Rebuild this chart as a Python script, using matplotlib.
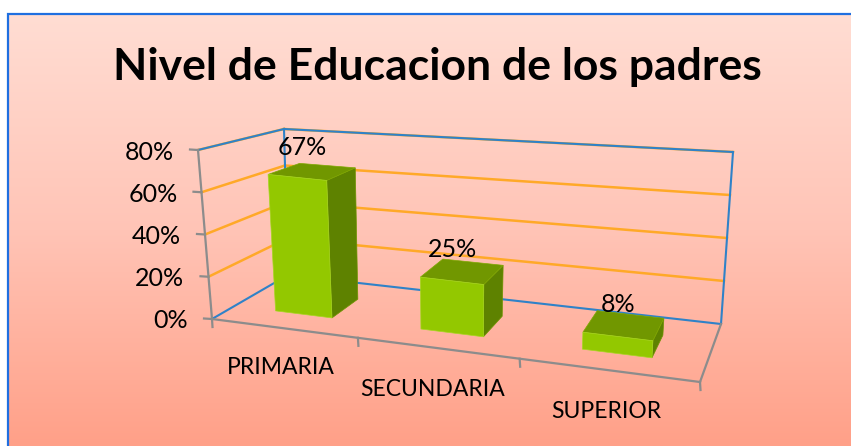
import numpy as np
import matplotlib
matplotlib.use("Agg")
import matplotlib.pyplot as plt
from matplotlib.colors import LinearSegmentedColormap
from matplotlib.patches import Polygon

title = "Nivel de Educacion de los padres"
categories = ["PRIMARIA", "SECUNDARIA", "SUPERIOR"]
values = [67, 25, 8]
value_labels = ["67%", "25%", "8%"]
y_ticks = [0, 20, 40, 60, 80]
y_tick_labels = ["0%", "20%", "40%", "60%", "80%"]

W, H = 851, 446
plt.rcParams["font.family"] = ["Lato", "DejaVu Sans"]
fig = plt.figure(figsize=(W / 100, H / 100), dpi=100)
ax = fig.add_axes([0, 0, 1, 1])
ax.set_xlim(0, W)
ax.set_ylim(H, 0)
ax.axis("off")

# gradient panel
cmap = LinearSegmentedColormap.from_list("bg", ["#FFDDD3", "#FFC4B6", "#FFA088"])
ax.imshow(np.linspace(0, 1, 256).reshape(-1, 1), cmap=cmap, aspect="auto",
          extent=(8, W, H, 14), zorder=0)
ax.set_xlim(0, W)
ax.set_ylim(H, 0)
ax.plot([8, 8, W], [H, 14, 14], color="#1F6FE0", lw=1.6, zorder=1, solid_joinstyle="miter")

# 3D box corners in pixels
FLB, FLT = np.array([212., 319.]), np.array([198., 150.])
BLB, BLT = np.array([288., 275.]), np.array([284., 129.])
FRB, FRT = np.array([700., 382.]), np.array([712., 210.])
BRB, BRT = np.array([721., 324.]), np.array([733., 152.])
VMAX = 80.0
NCAT = len(categories)
PERSP = -0.049


def project(t, v, w):
    """category position t, value v, depth w (0 front, 1 back) to pixels"""
    a = (1 + PERSP * NCAT) / NCAT
    u = a * t / (1 + PERSP * t)
    s = v / VMAX
    bottom = (1 - w) * ((1 - u) * FLB + u * FRB) + w * ((1 - u) * BLB + u * BRB)
    top = (1 - w) * ((1 - u) * FLT + u * FRT) + w * ((1 - u) * BLT + u * BRT)
    return (1 - s) * bottom + s * top


def seg(p, q, **kw):
    ax.plot([p[0], q[0]], [p[1], q[1]], **kw)


ORANGE = dict(color="#FFA928", lw=1.8, zorder=2)
BLUE = dict(color="#2F82C8", lw=1.5, zorder=3)
GRAY = dict(color="#8C8C8C", lw=1.6, zorder=3)

# gridlines on side wall and back wall
for v in y_ticks:
    a, b, c = project(0, v, 0), project(0, v, 1), project(NCAT, v, 1)
    if v == 0:
        continue
    seg(a, b, **ORANGE)
    seg(b, c, **ORANGE)

# wall edges
seg(project(0, 80, 0), project(0, 80, 1), **BLUE)
seg(project(0, 80, 1), project(NCAT, 80, 1), **BLUE)
seg(project(0, 0, 1), project(0, 80, 1), **BLUE)
seg(project(NCAT, 0, 1), project(NCAT, 80, 1), **BLUE)
seg(project(0, 0, 0), project(0, 0, 1), **BLUE)
seg(project(0, 0, 1), project(NCAT, 0, 1), **BLUE)

# axes
seg(project(0, 0, 0), project(0, 80, 0), **GRAY)
seg(project(0, 0, 0), project(NCAT, 0, 0), **GRAY)
seg(project(NCAT, 0, 0), project(NCAT, 0, 1), **GRAY)
for v, lab in zip(y_ticks, y_tick_labels):
    p = project(0, v, 0)
    seg(p, p + np.array([-8, -0.5]), **GRAY)
    ax.text(p[0] - 24, p[1] + 2, lab, ha="right", va="center", fontsize=18, color="black", zorder=6)
for t in range(NCAT + 1):
    p = project(t, 0, 0)
    seg(p, p + np.array([0.5, 8]), **GRAY)

# bars
FRONT, SIDE, TOP = "#93C800", "#5E8200", "#719700"
cat_pos = [(281, 368), (433, 390), (606, 411)]
label_shift = [(5, -30), (1, -31), (1, -32)]
w0, w1, half = 0.3, 0.7, 0.2
for i, v in enumerate(values):
    t0, t1 = i + 0.5 - half, i + 0.5 + half
    side = [project(t1, 0, w0), project(t1, 0, w1), project(t1, v, w1), project(t1, v, w0)]
    top = [project(t0, v, w0), project(t1, v, w0), project(t1, v, w1), project(t0, v, w1)]
    front = [project(t0, 0, w0), project(t1, 0, w0), project(t1, v, w0), project(t0, v, w0)]
    ax.add_patch(Polygon(side, fc=SIDE, ec="#6F9400", lw=0.5, zorder=4))
    ax.add_patch(Polygon(top, fc=TOP, ec="#7FA800", lw=0.5, zorder=4))
    ax.add_patch(Polygon(front, fc=FRONT, ec="#A6D620", lw=0.5, zorder=5))
    c = project(i + 0.5, v, w0)
    ax.text(c[0] + label_shift[i][0], c[1] + label_shift[i][1], value_labels[i],
            ha="center", va="center", fontsize=18, color="black", zorder=7)
    ax.text(cat_pos[i][0], cat_pos[i][1], categories[i], ha="center", va="center",
            fontsize=16.5, color="black", zorder=6)

ax.text(437, 67, title, ha="center", va="center", fontsize=32, fontweight="bold",
        color="black", zorder=6)

fig.savefig("out.png", dpi=100)
